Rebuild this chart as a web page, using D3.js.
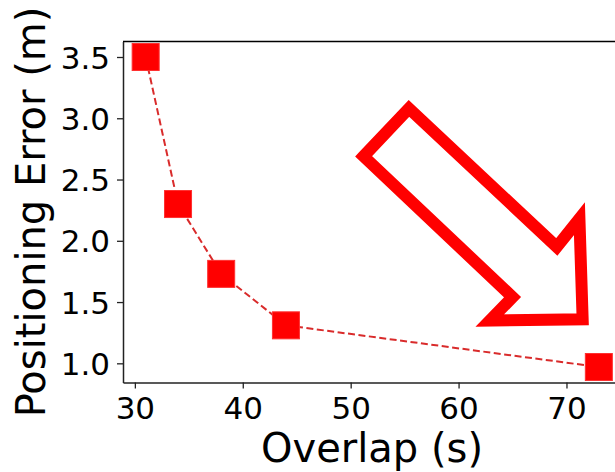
<!DOCTYPE html>
<html>
<head>
<meta charset="utf-8">
<script src="https://cdn.jsdelivr.net/npm/d3@7"></script>
<style>
  body { margin: 0; background: #fff; }
  svg { display: block; font-family: "DejaVu Sans", sans-serif; }
</style>
</head>
<body>
<svg id="chart" width="615" height="472"></svg>
<script>
// data
const overlap = [31, 34, 38, 44, 73];
const posError = [3.5, 2.3, 1.73, 1.31, 0.97];
const xTicks = [30, 40, 50, 60, 70];
const yTicks = [1.0, 1.5, 2.0, 2.5, 3.0, 3.5];
// arrow annotation outline, in data units (overlap, error)
const arrowX = [51.2, 55.4, 69.1, 71.2, 71.5, 62.9, 65.0];
const arrowY = [2.69, 3.08, 1.95, 2.18, 1.36, 1.35, 1.54];

let chart = d3.select("#chart");

// x position scale (axes runs past the right edge of the picture)
let x = d3.scaleLinear()
    .domain([28.9, 75.1])
    .range([123, 621.5]);

// y position scale
let y = d3.scaleLinear()
    .domain([0.8435, 3.6265])
    .range([382.5, 41.5]);

// axes frame
chart.append("line")
    .attr("x1", 123).attr("x2", 615)
    .attr("y1", 41.5).attr("y2", 41.5)
    .attr("stroke", "#000").attr("stroke-width", 1.5);

let xAxis = d3.axisBottom(x)
    .tickValues(xTicks)
    .tickFormat(d3.format("d"))
    .tickSize(6)
    .tickPadding(8)
    .tickSizeOuter(0);
let xAxisGroup = chart.append("g")
    .attr("transform", "translate(0,382.5)")
    .call(xAxis);

let yAxis = d3.axisLeft(y)
    .tickValues(yTicks)
    .tickFormat(d3.format(".1f"))
    .tickSize(6)
    .tickPadding(7)
    .tickSizeOuter(0);
let yAxisGroup = chart.append("g")
    .attr("transform", "translate(123,0)")
    .call(yAxis);

[xAxisGroup, yAxisGroup].forEach(g => {
  g.select(".domain").attr("stroke", "#222").attr("stroke-width", 1.5);
  g.selectAll(".tick line").attr("stroke", "#222").attr("stroke-width", 1.3);
  g.selectAll(".tick text")
      .attr("fill", "#000")
      .style("font-size", "31px")
      .style("font-family", "DejaVu Sans");
});
yAxisGroup.selectAll(".tick text").attr("dy", "0.36em");

// axis labels
chart.append("text")
    .text("Overlap (s)")
    .attr("x", 372)
    .attr("y", 462)
    .attr("text-anchor", "middle")
    .style("font-size", "40px");

chart.append("text")
    .text("Positioning Error (m)")
    .attr("transform", "translate(45,212) rotate(-90)")
    .attr("text-anchor", "middle")
    .style("font-size", "40px");

// dashed line
chart.append("path")
    .datum(overlap.map((d, i) => [d, posError[i]]))
    .attr("fill", "none")
    .attr("stroke", "#d92b2b")
    .attr("stroke-width", 2)
    .attr("stroke-dasharray", "7,3.5")
    .attr("d", d3.line()
        .x(d => x(d[0]))
        .y(d => y(d[1])));

// square markers
const size = 27;
chart.selectAll("rect.pt")
    .data(overlap)
    .join("rect")
    .attr("class", "pt")
    .attr("x", (d, i) => x(d) - size / 2)
    .attr("y", (d, i) => y(posError[i]) - size / 2)
    .attr("width", size)
    .attr("height", size)
    .attr("fill", "#ff0000")
    .attr("stroke", "#ff3030")
    .attr("stroke-width", 1);

// big hollow arrow
chart.append("path")
    .datum(arrowX.map((d, i) => [d, arrowY[i]]))
    .attr("fill", "#fff")
    .attr("stroke", "#ff0000")
    .attr("stroke-width", 12)
    .attr("stroke-linejoin", "miter")
    .attr("stroke-miterlimit", 10)
    .attr("d", d3.line()
        .x(d => x(d[0]))
        .y(d => y(d[1])) .curve(d3.curveLinearClosed));
</script>
</body>
</html>
